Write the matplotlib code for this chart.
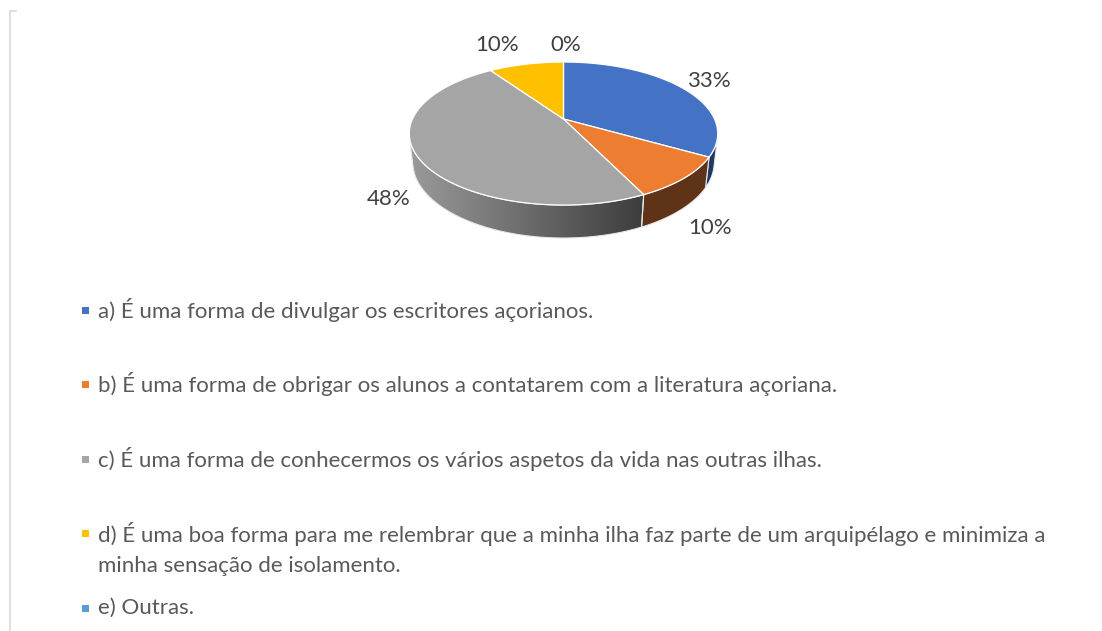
#!/usr/bin/env python3
"""3D pie of survey answers with a vertical legend underneath (Excel look)."""

import numpy as np
import matplotlib.pyplot as plt
from matplotlib.patches import Polygon, Rectangle
from matplotlib.lines import Line2D
from matplotlib.colors import LinearSegmentedColormap

# answers (number of students) and legend texts
counts = [7, 2, 10, 2, 0]
answers = [
    "a) É uma forma de divulgar os escritores açorianos.",
    "b) É uma forma de obrigar os alunos a contatarem com a literatura açoriana.",
    "c) É uma forma de conhecermos os vários aspetos da vida nas outras ilhas.",
    "d) É uma boa forma para me relembrar que a minha ilha faz parte de um arquipélago e minimiza a\n"
    "minha sensação de isolamento.",
    "e) Outras.",
]
top_colors = ["#4472c4", "#ed7d31", "#a5a5a5", "#ffc000", "#5b9bd5"]
side_colors = ["#1f3864", "#5e3317", "#6e6e6e", "#7f6000", "#2e4e6e"]

plt.rcParams["font.family"] = ["Lato", "DejaVu Sans"]

# simple perspective camera for the pie disc
F, D, PHI, H = 662.0, 4.384, np.radians(27.0), 0.215
CX, CY = 563.5, 119.0


def proj(theta, r=1.0, z=0.0):
    t = np.radians(theta)
    X = r * np.sin(t)
    Y = r * np.cos(t)
    w = D + Y * np.cos(PHI) - z * np.sin(PHI)
    u = F * X / w
    v = F * (Y * np.sin(PHI) + z * np.cos(PHI)) / w
    return CX + u, CY - v


def main():
    fig = plt.figure(figsize=(11.02, 6.31), dpi=100)
    ax = fig.add_axes([0, 0, 1, 1])
    ax.set_xlim(0, 1102)
    ax.set_ylim(631, 0)
    ax.axis("off")

    # chart area border (only left side visible in the crop)
    ax.add_line(Line2D([10, 10, 16], [631, 11, 11], color="#d9d9d9", lw=1.2))

    total = sum(counts)
    fracs = [c / total for c in counts]
    edges = np.concatenate([[0], np.cumsum(fracs)]) * 360.0

    # visible part of the side wall (silhouette of the cylinder)
    ts = np.degrees(np.arccos(-1.0 / (D * np.cos(PHI))))
    vis_lo, vis_hi = ts, 360.0 - ts

    gray_cmap = LinearSegmentedColormap.from_list("side", ["#9a9a9a", "#3c3c3c"])

    for i in range(len(counts)):
        a0, a1 = max(edges[i], vis_lo), min(edges[i + 1], vis_hi)
        if a1 <= a0:
            continue
        tt = np.linspace(a0, a1, 80)
        xt, yt = proj(tt)
        xb, yb = proj(tt[::-1], z=-H)
        pts = np.column_stack([np.concatenate([xt, xb]), np.concatenate([yt, yb])])
        if i == 2:
            poly = Polygon(pts, closed=True, facecolor="none", edgecolor="#e8e8e8", lw=0.8, zorder=2)
            ax.add_patch(poly)
            grad = np.linspace(0, 1, 256).reshape(1, -1)
            im = ax.imshow(grad, cmap=gray_cmap, aspect="auto", zorder=1,
                           extent=[pts[:, 0].min(), pts[:, 0].max(), pts[:, 1].max(), pts[:, 1].min()])
            im.set_clip_path(poly)
        else:
            ax.add_patch(Polygon(pts, closed=True, facecolor=side_colors[i],
                                 edgecolor="#e8e8e8", lw=0.8, zorder=1.5))

    # top face
    for i in range(len(counts)):
        if counts[i] == 0:
            continue
        tt = np.linspace(edges[i], edges[i + 1], 120)
        xt, yt = proj(tt)
        pts = np.column_stack([np.concatenate([[CX], xt]), np.concatenate([[CY], yt])])
        ax.add_patch(Polygon(pts, closed=True, facecolor=top_colors[i],
                             edgecolor="white", lw=0.9, zorder=3))

    # data labels (Excel shifts a few of them to avoid collisions)
    nudge = {1: (-7, -1), 2: (8, 0), 3: (-22, -8), 4: (2, -6)}
    for i in range(len(counts)):
        mid = (edges[i] + edges[i + 1]) / 2.0
        z = -H if np.cos(np.radians(mid)) < 0 else 0.0
        lx, ly = proj(mid, r=1.25, z=z)
        dx, dy = nudge.get(i, (0, 0))
        ax.text(lx + dx, ly + dy, f"{100 * fracs[i]:.0f}%", fontsize=16,
                color="#404040", ha="center", va="center", zorder=5)

    # legend
    y0, step, line_h = 310, 74.5, 32
    for i, txt in enumerate(answers):
        y = y0 + i * step
        ax.add_patch(Rectangle((82, y - 3.5), 7, 7, facecolor=top_colors[i],
                               edgecolor="none", zorder=4))
        for j, line in enumerate(txt.split("\n")):
            ax.text(98, y + j * line_h, line, fontsize=16,
                    color="#595959", ha="left", va="center", zorder=4)

    fig.savefig("out.png", dpi=100)


if __name__ == "__main__":
    main()
